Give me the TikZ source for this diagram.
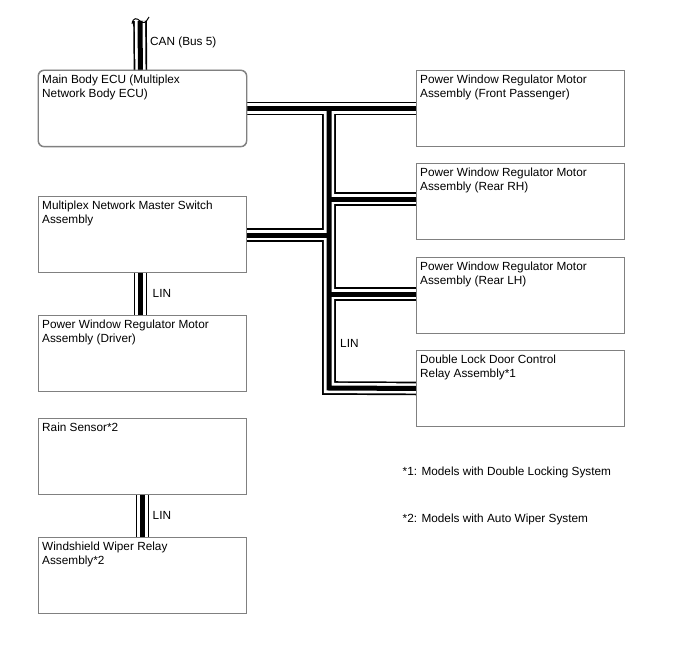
\documentclass[tikz,border=0pt]{standalone}
\usepackage{fontspec}
\setmainfont{Liberation Sans}
\definecolor{boxgray}{RGB}{128,128,128}
\newcommand{\allcables}[1]{%
  \draw[#1] (ecu.east) -- (fp.west);
  \draw[#1] (j0) -- (j4) -- (dl.west);
  \draw[#1] (j1) -- (j1 -| rrh.west);
  \draw[#1] (j3) -- (j3 -| rlh.west);
  \draw[#1] (j2) -- (j2 -| msw.east);
  \draw[#1] ([xshift=-2pt]msw.south) -- ([xshift=-2pt]drv.north);
  \draw[#1] (rain.south) -- (wip.north);
  \draw[#1] ([xshift=-2pt]ecu.north) -- (canend);
}
\begin{document}
\begin{tikzpicture}[x=1pt,y=-1pt,
  box/.style={draw=boxgray, line width=0.9pt, minimum width=208pt, minimum height=76pt, inner sep=0pt, anchor=north west},
  lbl/.style={anchor=north west, inner sep=0pt, align=left, font=\fontsize{11.8}{13.4}\selectfont},
  note/.style={anchor=base west, inner sep=0pt, font=\fontsize{11.8}{13.4}\selectfont},
  cabO/.style={line width=13.6pt, black, line join=miter},
  cabW/.style={line width=10.2pt, white, line join=miter},
  cabC/.style={line width=5pt, black, line join=miter},
]
\useasboundingbox (0,0) rectangle (688,658);
% boxes (geometry)
\node[box, rounded corners=6pt] (ecu) at (38,70) {};
\node[box] (fp)   at (416,70) {};
\node[box] (rrh)  at (416,163) {};
\node[box] (rlh)  at (416,257) {};
\node[box] (dl)   at (416,350) {};
\node[box] (msw)  at (38,196) {};
\node[box] (drv)  at (38,315) {};
\node[box] (rain) at (38,418) {};
\node[box] (wip)  at (38,537) {};
% junctions
\coordinate (j0) at (329,108);
\coordinate (j1) at (329,199);
\coordinate (j2) at (329,235);
\coordinate (j3) at (329,294);
\coordinate (j4) at (329,388);
\coordinate (canend) at (140,21);
% cables in three passes
\allcables{cabO}
\allcables{cabW}
\allcables{cabC}
% break mark on CAN
\draw[line width=1pt] (132,24) .. controls (133,17) and (137,18) .. (140,21) .. controls (143,24) and (146,23) .. (149,17);
% redraw box outlines over cable ends
\foreach \b in {fp,rrh,rlh,dl,msw,drv,rain,wip}{
  \draw[boxgray, line width=0.9pt] (\b.north west) rectangle (\b.south east);
}
\draw[boxgray, line width=0.9pt, rounded corners=6pt] (ecu.north west) rectangle (ecu.south east);
% texts
\node[lbl] (tecu) at ([xshift=4pt, yshift=-5pt]ecu.north west) {Main Body ECU (Multiplex\\Network Body ECU)};
\node[lbl] (tfp) at ([xshift=4pt, yshift=-5pt]fp.north west) {Power Window Regulator Motor\\Assembly (Front Passenger)};
\node[lbl] (trrh) at ([xshift=4pt, yshift=-5pt]rrh.north west) {Power Window Regulator Motor\\Assembly (Rear RH)};
\node[lbl] (trlh) at ([xshift=4pt, yshift=-5pt]rlh.north west) {Power Window Regulator Motor\\Assembly (Rear LH)};
\node[lbl] (tdl) at ([xshift=4pt, yshift=-5pt]dl.north west) {Double Lock Door Control\\Relay Assembly*1};
\node[lbl] (tmsw) at ([xshift=4pt, yshift=-5pt]msw.north west) {Multiplex Network Master Switch\\Assembly};
\node[lbl] (tdrv) at ([xshift=4pt, yshift=-5pt]drv.north west) {Power Window Regulator Motor\\Assembly (Driver)};
\node[lbl] (train) at ([xshift=4pt, yshift=-5pt]rain.north west) {Rain Sensor*2};
\node[lbl] (twip) at ([xshift=4pt, yshift=-5pt]wip.north west) {Windshield Wiper Relay\\Assembly*2};
% labels
\node[note] (can) at (150,45.7) {CAN (Bus 5)};
\node[note] (lin1) at (152.5,297.5) {LIN};
\node[note] (lin2) at (152.5,519) {LIN};
\node[note] (lin3) at (340,347.3) {LIN};
\node[note] (n1) at (402.5,475.5) {*1: Models with Double Locking System};
\node[note] (n2) at (402.5,522) {*2: Models with Auto Wiper System};
\end{tikzpicture}
\end{document}
